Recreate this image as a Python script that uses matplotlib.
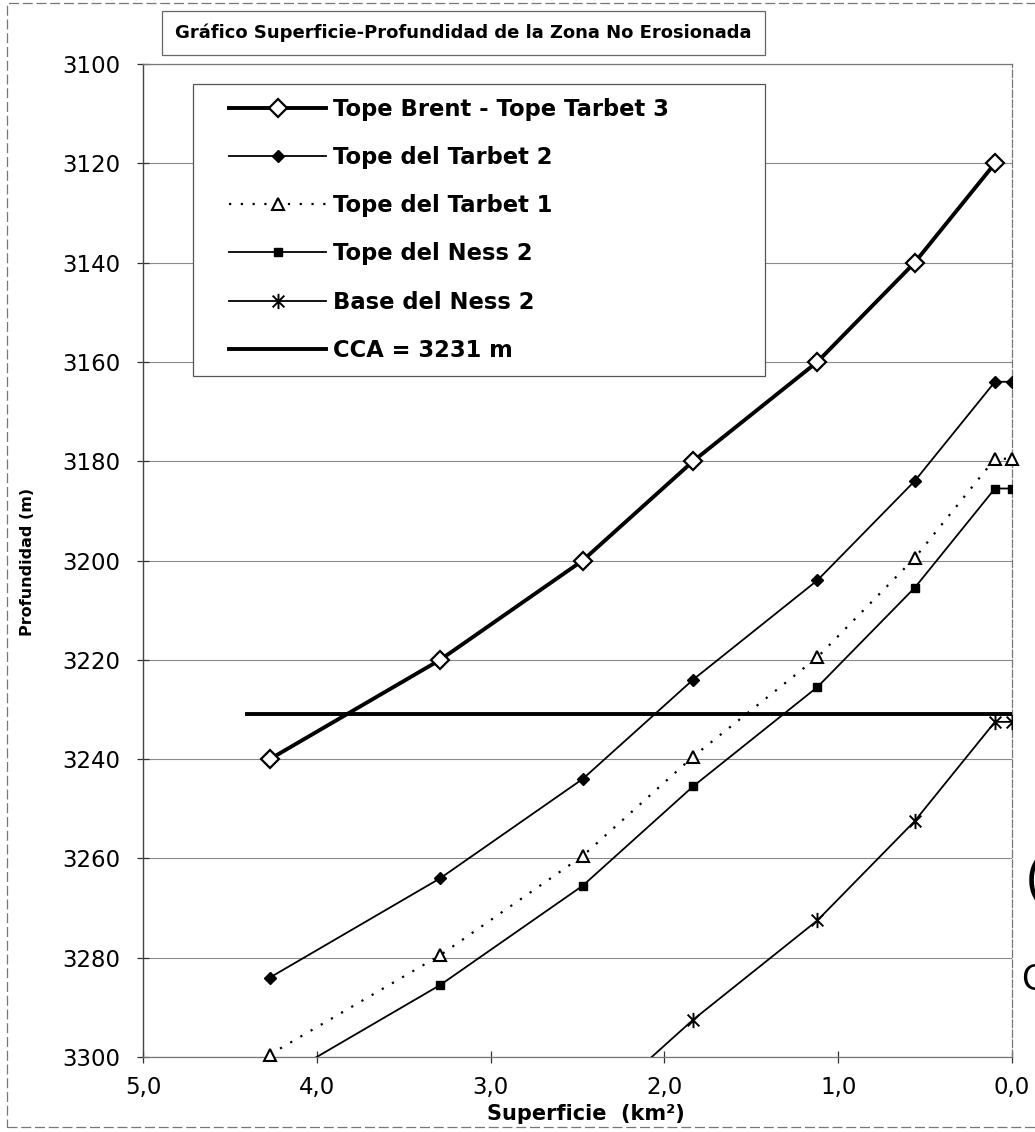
import matplotlib
matplotlib.use("Agg")
import matplotlib.pyplot as plt
from matplotlib.path import Path
from matplotlib.patches import Rectangle

# Superficie (km2) de cada contorno estructural
superficie = [4.27, 3.29, 2.47, 1.835, 1.12, 0.56, 0.098, 0.0]

# Profundidad (m) de cada horizonte
tope_brent = [3240, 3220, 3200, 3180, 3160, 3140, 3120]
tope_tarbet2 = [3284, 3264, 3244, 3224, 3204, 3184, 3164, 3164]
tope_tarbet1 = [3299.5, 3279.5, 3259.5, 3239.5, 3219.5, 3199.5, 3179.5, 3179.5]
tope_ness2 = [3305.5, 3285.5, 3265.5, 3245.5, 3225.5, 3205.5, 3185.5, 3185.5]
base_ness2 = [3312.5, 3292.5, 3272.5, 3252.5, 3232.5, 3232.5]

# Contacto agua-petroleo
cca = 3231
cca_x = [4.4, 0.0]

x_ticks = [5, 4, 3, 2, 1, 0]
x_tick_labels = ["5,0", "4,0", "3,0", "2,0", "1,0", "0,0"]
y_ticks = [3100, 3120, 3140, 3160, 3180, 3200, 3220, 3240, 3260, 3280, 3300]

W, H = 1035, 1132

# marcador tipo asterisco (X + barra vertical)
asterisco = Path([(-1, -1), (1, 1), (-1, 1), (1, -1), (0, -1.3), (0, 1.3)],
                 [Path.MOVETO, Path.LINETO, Path.MOVETO, Path.LINETO, Path.MOVETO, Path.LINETO])

fig = plt.figure(figsize=(W / 100, H / 100), dpi=100)
ax = fig.add_axes([143 / W, 1 - 1057 / H, (1012 - 143) / W, (1057 - 64) / H])

ax.set_xlim(5, 0)
ax.set_ylim(3300, 3100)

ax.grid(axis="y", color="#8a8a8a", linewidth=0.8)
ax.set_axisbelow(True)

ax.plot(superficie[:len(tope_brent)], tope_brent, color="black", linewidth=2.8,
        marker="D", markersize=9, markerfacecolor="white", markeredgecolor="black",
        markeredgewidth=1.6, label="Tope Brent - Tope Tarbet 3", zorder=4)
ax.plot(superficie, tope_tarbet2, color="black", linewidth=1.3,
        marker="D", markersize=6, label="Tope del Tarbet 2", zorder=4)
ax.plot(superficie, tope_tarbet1, color="black", linewidth=1.6, linestyle=(0, (1, 4.3)),
        marker="^", markersize=8, markerfacecolor="white", markeredgecolor="black",
        markeredgewidth=1.5, label="Tope del Tarbet 1", clip_on=False, zorder=4)
ax.plot(superficie, tope_ness2, color="black", linewidth=1.3,
        marker="s", markersize=6, label="Tope del Ness 2", zorder=4)
ax.plot(superficie[2:], base_ness2, color="black", linewidth=1.3,
        marker=asterisco, markersize=11, markeredgewidth=1.4, markerfacecolor="none",
        label="Base del Ness 2", zorder=4)
ax.plot(cca_x, [cca, cca], color="black", linewidth=2.8, label="CCA = 3231 m", zorder=3)

ax.set_xticks(x_ticks)
ax.set_xticklabels(x_tick_labels)
ax.set_yticks(y_ticks)
for lab in ax.get_xticklabels() + ax.get_yticklabels():
    lab.set_fontfamily("DejaVu Sans")
    lab.set_fontsize(16.5)
ax.tick_params(direction="inout", length=9, width=0.9, color="#333333")
ax.tick_params(axis="x", pad=9)
ax.tick_params(axis="y", pad=12)

for side in ["top", "right", "bottom"]:
    ax.spines[side].set_color("#777777")
    ax.spines[side].set_linewidth(0.9)
ax.spines["left"].set_color("#444444")
ax.spines["left"].set_linewidth(1.0)
ax.spines["right"].set_linestyle((0, (6, 2)))

fig.text(586 / W, 1 - 1114 / H, "Superficie  (km²)", ha="center", va="center",
         fontsize=15, fontweight="bold", family="DejaVu Sans")
fig.text(28 / W, 1 - 562 / H, "Profundidad (m)", ha="center", va="center",
         rotation=90, fontsize=11.5, fontweight="bold", family="DejaVu Sans")

# titulo en recuadro
fig.add_artist(Rectangle((162 / W, 1 - 55 / H), (765 - 162) / W, 44 / H,
                         transform=fig.transFigure, fill=False, edgecolor="#666666", linewidth=0.9))
fig.text(463 / W, 1 - 33 / H, "Gráfico Superficie-Profundidad de la Zona No Erosionada",
         ha="center", va="center", fontsize=13, fontweight="bold", family="DejaVu Sans")

# leyenda: recuadro propio y entradas sin marco
leg_box = Rectangle((193 / W, 1 - 376 / H), (765 - 193) / W, (376 - 84) / H,
                    transform=fig.transFigure, facecolor="white", edgecolor="#555555",
                    linewidth=0.9, zorder=5)
ax.add_artist(leg_box)
leg_box.set_clip_on(False)
leg = ax.legend(loc="upper left", bbox_to_anchor=(229 / W, 1 - 98 / H),
                bbox_transform=fig.transFigure, frameon=False,
                prop={"family": "DejaVu Sans", "weight": "bold", "size": 16.3},
                handlelength=4.3, handletextpad=0.3, labelspacing=1.11, borderpad=0,
                borderaxespad=0)
leg.set_zorder(6)

# borde exterior del grafico
fig.add_artist(Rectangle((7 / W, 1 - 1127 / H), 1.0, 1124 / H, transform=fig.transFigure,
                         fill=False, edgecolor="#777777", linewidth=0.9, linestyle=(0, (8, 3))))

# restos de texto de la pagina al margen derecho
fig.text(1026 / W, 1 - 880 / H, "(", ha="left", va="center", fontsize=38,
         family="Liberation Sans", fontweight="light")
fig.text(1021 / W, 1 - 980 / H, "C", ha="left", va="center", fontsize=26,
         family="Liberation Sans")

fig.savefig("out.png", dpi=100)
